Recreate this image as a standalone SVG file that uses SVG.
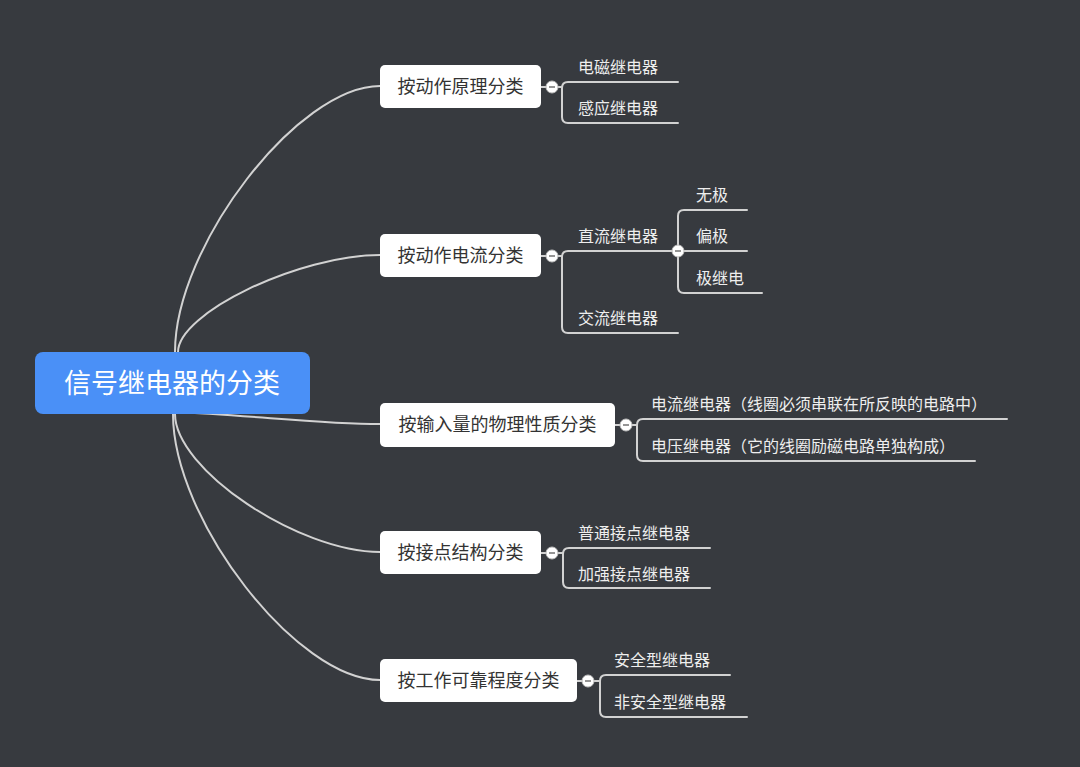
<svg xmlns="http://www.w3.org/2000/svg" width="1080" height="767" viewBox="0 0 1080 767">
<style>
.bg{fill:#373a3f}
.ln{fill:none;stroke:#d2d2d2;stroke-width:2;stroke-linecap:round}
.root{fill:#4a90f7}
.rt{font-family:"Noto Sans CJK SC","Noto Sans",sans-serif;font-size:27px;fill:#ffffff;text-anchor:middle}
.box{fill:#ffffff}
.bt{font-family:"Noto Sans CJK SC","Noto Sans",sans-serif;font-size:18px;fill:#333333;text-anchor:middle}
.ct{font-family:"Noto Sans CJK SC","Noto Sans",sans-serif;font-size:16px;fill:#eeeeee;text-spacing-trim:space-all;font-feature-settings:"chws" 0,"halt" 0,"fwid" 1}
.cc{fill:#ffffff;stroke:#bdbdbd;stroke-width:1}
.cm{stroke:#7a7a7a;stroke-width:1.6}
</style>
<rect class="bg" x="0" y="0" width="1080" height="767"/>
<g id="connectors">
  <path class="ln" d="M175 352 C175 246 298 86 380 86"/>
  <path class="ln" d="M178 352 C178 313 299 255 380 255"/>
  <path class="ln" d="M174 412 C250 415 320 424 380 424"/>
  <path class="ln" d="M175 414 C175 469 298 552 380 552"/>
  <path class="ln" d="M173 414 C173 520 297 680 380 680"/>
  <path class="ln" d="M541 87 L562 87"/>
  <path class="ln" d="M678 82 L568 82 Q562 82 562 88 L562 117 Q562 123 568 123 L678 123"/>
  <path class="ln" d="M541 256 L562 256"/>
  <path class="ln" d="M678 251 L568 251 Q562 251 562 257 L562 327 Q562 333 568 333 L678 333"/>
  <path class="ln" d="M747 210 L684 210 Q678 210 678 216 L678 287 Q678 293 684 293 L762 293"/>
  <path class="ln" d="M678 251 L747 251"/>
  <path class="ln" d="M615 425 L637 425"/>
  <path class="ln" d="M1007 419 L643 419 Q637 419 637 425 L637 455 Q637 461 643 461 L975 461"/>
  <path class="ln" d="M541 553 L563 553"/>
  <path class="ln" d="M710 548 L569 548 Q563 548 563 554 L563 582 Q563 588 569 588 L710 588"/>
  <path class="ln" d="M577 681 L600 681"/>
  <path class="ln" d="M730 675 L606 675 Q600 675 600 681 L600 711 Q600 717 606 717 L747 717"/>
</g>
<g id="root">
  <rect class="root" x="35" y="352" width="275" height="62" rx="8"/>
  <text class="rt" x="172" y="393">信号继电器的分类</text>
</g>
<g id="n1">
  <rect class="box" x="380" y="65" width="161" height="43" rx="5"/>
  <text class="bt" x="460.5" y="93">按动作原理分类</text>
  <circle class="cc" cx="552" cy="87" r="6"/><line class="cm" x1="549" y1="87" x2="555" y2="87"/>
</g>
<g id="n1a"><text class="ct" x="578" y="73">电磁继电器</text></g>
<g id="n1b"><text class="ct" x="578" y="114">感应继电器</text></g>
<g id="n2">
  <rect class="box" x="380" y="234" width="161" height="43" rx="5"/>
  <text class="bt" x="460.5" y="262">按动作电流分类</text>
  <circle class="cc" cx="552" cy="256" r="6"/><line class="cm" x1="549" y1="256" x2="555" y2="256"/>
</g>
<g id="n2a">
  <text class="ct" x="578" y="242">直流继电器</text>
  <circle class="cc" cx="678" cy="251" r="6"/><line class="cm" x1="675" y1="251" x2="681" y2="251"/>
</g>
<g id="n2a1"><text class="ct" x="696" y="201">无极</text></g>
<g id="n2a2"><text class="ct" x="696" y="242">偏极</text></g>
<g id="n2a3"><text class="ct" x="696" y="284">极继电</text></g>
<g id="n2b"><text class="ct" x="578" y="324">交流继电器</text></g>
<g id="n3">
  <rect class="box" x="380" y="403" width="235" height="44" rx="5"/>
  <text class="bt" x="497.5" y="431">按输入量的物理性质分类</text>
  <circle class="cc" cx="626" cy="425" r="6"/><line class="cm" x1="623" y1="425" x2="629" y2="425"/>
</g>
<g id="n3a"><text class="ct" x="651" y="410">电流继电器（线圈必须串联在所反映的电路中）</text></g>
<g id="n3b"><text class="ct" x="651" y="452">电压继电器（它的线圈励磁电路单独构成）</text></g>
<g id="n4">
  <rect class="box" x="380" y="531" width="161" height="43" rx="5"/>
  <text class="bt" x="460.5" y="559">按接点结构分类</text>
  <circle class="cc" cx="552" cy="553" r="6"/><line class="cm" x1="549" y1="553" x2="555" y2="553"/>
</g>
<g id="n4a"><text class="ct" x="578" y="539">普通接点继电器</text></g>
<g id="n4b"><text class="ct" x="578" y="580">加强接点继电器</text></g>
<g id="n5">
  <rect class="box" x="380" y="659" width="197" height="43" rx="5"/>
  <text class="bt" x="478.5" y="687">按工作可靠程度分类</text>
  <circle class="cc" cx="588" cy="681" r="6"/><line class="cm" x1="585" y1="681" x2="591" y2="681"/>
</g>
<g id="n5a"><text class="ct" x="614" y="666">安全型继电器</text></g>
<g id="n5b"><text class="ct" x="614" y="708">非安全型继电器</text></g>
</svg>
